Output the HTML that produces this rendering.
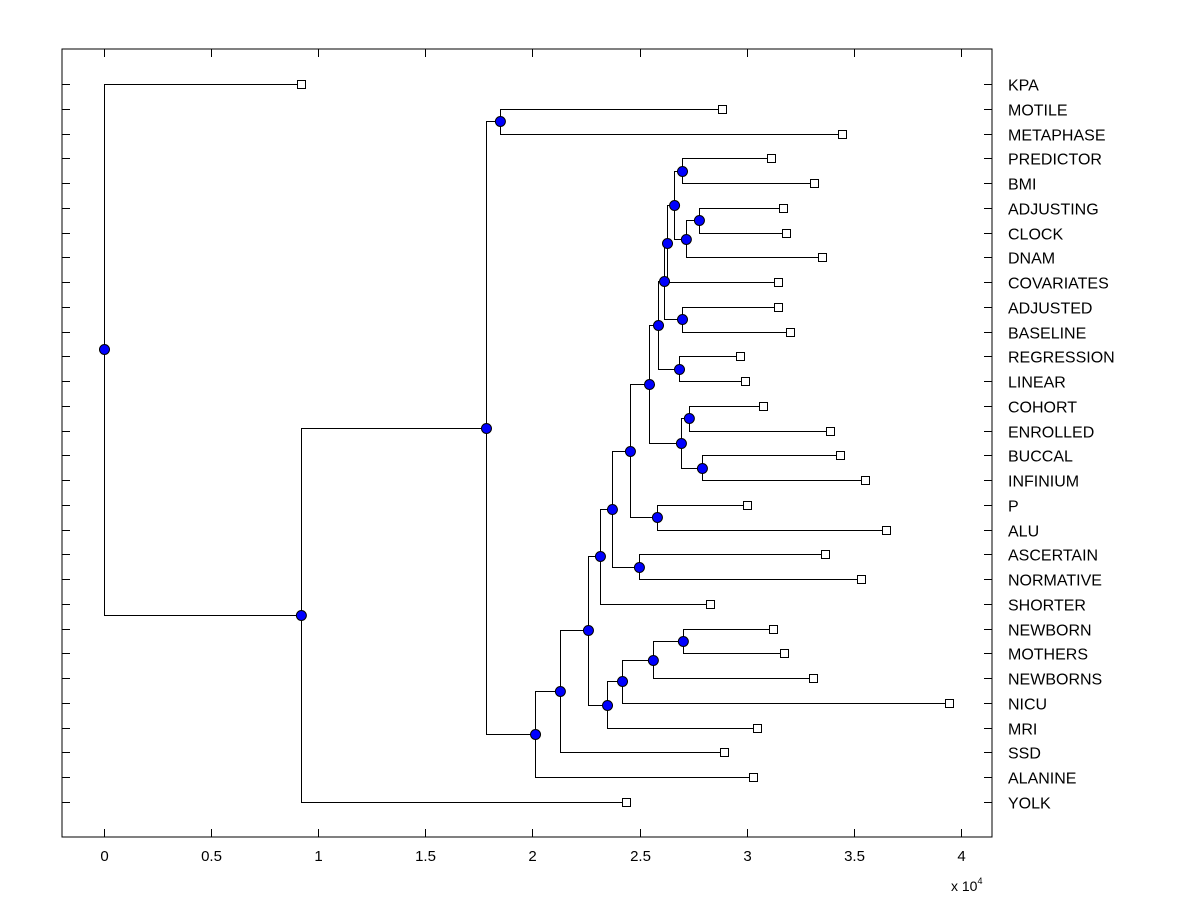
<!DOCTYPE html>
<html><head><meta charset="utf-8"><style>body{margin:0;background:#fff}svg{display:block}</style></head>
<body>
<svg id="chart" width="1200" height="900" xmlns="http://www.w3.org/2000/svg" font-family="Liberation Sans, Arial, sans-serif">
<rect x="0" y="0" width="1200" height="900" fill="#fff"/>
<g id="axes"></g>
<g id="links"></g>
<g id="marks"></g>
<g id="labels"></g>
</svg>
<script>
const leafNames = ["KPA","MOTILE","METAPHASE","PREDICTOR","BMI","ADJUSTING","CLOCK","DNAM","COVARIATES","ADJUSTED","BASELINE","REGRESSION","LINEAR","COHORT","ENROLLED","BUCCAL","INFINIUM","P","ALU","ASCERTAIN","NORMATIVE","SHORTER","NEWBORN","MOTHERS","NEWBORNS","NICU","MRI","SSD","ALANINE","YOLK"];
const leafValues = [0.919,2.885,3.445,3.113,3.314,3.169,3.183,3.351,3.146,3.146,3.202,2.968,2.992,3.076,3.389,3.435,3.552,3.001,3.650,3.365,3.533,2.829,3.123,3.174,3.309,3.944,3.048,2.894,3.029,2.436];
// merges: [id, childA, childB]
const mergeIds = ["n1","n2","n3","n4","n5","X","U","V","Q","S","T","R","O","P2","M","N","L","G","K","J","I","H","F","E","D","C","B","A","root"];
const mergeLeft = ["PREDICTOR","ADJUSTING","n2","n1","n4","ADJUSTED","n5","REGRESSION","U","COHORT","BUCCAL","S","Q","P","O","ASCERTAIN","M","L","NEWBORN","K","J","I","G","F","E","MOTILE","C","B","KPA"];
const mergeRight = ["BMI","CLOCK","DNAM","n3","COVARIATES","BASELINE","X","LINEAR","V","ENROLLED","INFINIUM","T","R","ALU","P2","NORMATIVE","N","SHORTER","MOTHERS","NEWBORNS","NICU","MRI","H","SSD","ALANINE","METAPHASE","D","YOLK","A"];
const mergeHeights = [2.698,2.777,2.716,2.661,2.628,2.698,2.614,2.684,2.586,2.730,2.791,2.693,2.544,2.581,2.455,2.497,2.371,2.315,2.702,2.562,2.418,2.348,2.259,2.128,2.012,1.848,1.783,0.919,0];
const xTicks = [0,0.5,1,1.5,2,2.5,3,3.5,4];
const xTickLabels = ["0","0.5","1","1.5","2","2.5","3","3.5","4"];

const NS="http://www.w3.org/2000/svg";
const L=62,R=992,T=49,B=837;
const xMin=-0.196,xMax=4.145;
function xs(v){return L+(v-xMin)/(xMax-xMin)*(R-L);}
function ys(i){return 84+i*(802-84)/29;}
function mk(tag,attrs,parent){const e=document.createElementNS(NS,tag);for(const k in attrs)e.setAttribute(k,attrs[k]);document.getElementById(parent).appendChild(e);return e;}

// axes box
let e=mk('rect',{x:L,y:T,width:R-L,height:B-T,fill:'none',stroke:'#000','stroke-width':1},'axes');


leafNames.forEach((n,i)=>{
  const y=Math.round(ys(i))+0.5;
  let t=mk('line',{x1:L,x2:L+8,y1:y,y2:y,stroke:'#000'},'axes');
  
  
  t=mk('line',{x1:R-8,x2:R,y1:y,y2:y,stroke:'#000'},'axes');
  
  
  const lb=mk('text',{x:1008,y:y+6,'font-size':16,fill:'#000'},'labels');
  lb.textContent=n;
  
  
});
xTicks.forEach((v,i)=>{
  const x=Math.round(xs(v))+0.5;
  let t=mk('line',{x1:x,x2:x,y1:B-8,y2:B,stroke:'#000'},'axes');
  
  
  t=mk('line',{x1:x,x2:x,y1:T,y2:T+8,stroke:'#000'},'axes');
  
  
  const lb=mk('text',{x:x,y:861,'font-size':15,'text-anchor':'middle',fill:'#000'},'labels');
  lb.textContent=xTickLabels[i];
  
  
});
const sc=mk('text',{x:951,y:891,'font-size':14,fill:'#000'},'labels');
sc.innerHTML='x 10<tspan dy="-7" font-size="9">4</tspan>';



// positions
const pos={};
leafNames.forEach((n,i)=>{pos[n]={x:leafValues[i],y:ys(i),leaf:true};});
mergeIds.forEach((id,k)=>{
  const a=pos[mergeLeft[k]],b=pos[mergeRight[k]];
  pos[id]={x:mergeHeights[k],y:(a.y+b.y)/2,leaf:false};
});
mergeIds.forEach((id,k)=>{
  const p=pos[id],a=pos[mergeLeft[k]],b=pos[mergeRight[k]];
  const px=Math.round(xs(p.x))+0.5;
  const ya=Math.round(a.y)+0.5,yb=Math.round(b.y)+0.5;
  const d=`M${Math.round(xs(a.x))+0.5},${ya}H${px}V${yb}H${Math.round(xs(b.x))+0.5}`;
  const ln=mk('path',{d:d,fill:'none',stroke:'#000','stroke-width':1},'links');
  
  
});
mergeIds.forEach(id=>{
  const p=pos[id];
  const c=mk('circle',{cx:xs(p.x)+0.5,cy:Math.round(p.y)+0.5,r:5,fill:'#0000ff',stroke:'#000','stroke-width':1},'marks');
  
  
});
leafNames.forEach(n=>{
  const p=pos[n];
  const s=mk('rect',{x:Math.round(xs(p.x))-3.5,y:Math.round(p.y)-3.5,width:8,height:8,fill:'#fff',stroke:'#000','stroke-width':1},'marks');
  
  
});
</script>
</body></html>
